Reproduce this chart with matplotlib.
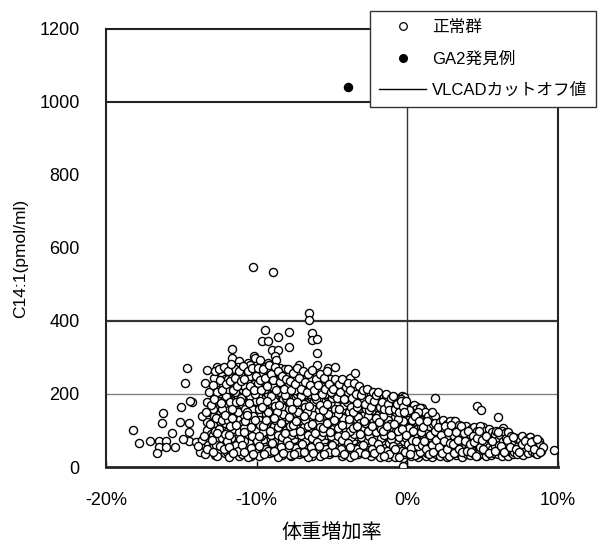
import matplotlib
matplotlib.use("Agg")
import matplotlib.pyplot as plt
from matplotlib.lines import Line2D

plt.rcParams['font.family'] = ['Liberation Sans', 'Noto Sans CJK JP', 'DejaVu Sans']

# ---------------- data (x: weight change %, y: C14:1 pmol/ml) ----------------
normal_left_sparse = [
    (-18.19, 101), (-17.8, 67), (-17.1, 72), (-16.5, 72), (-16.5, 56), (-16.0, 72),
    (-16.0, 56), (-15.4, 56), (-16.6, 37), (-16.2, 149), (-16.3, 121), (-15.6, 94),
    (-15.1, 124), (-15.0, 165), (-14.3, 179), (-14.6, 270), (-14.75, 231),
    (-14.5, 121), (-14.5, 97), (-14.5, 72), (-14.9, 76), (-14.0, 69), (-13.76, 42),
    (-13.6, 74), (-13.4, 229), (-13.3, 266), (-13.3, 179), (-13.3, 124), (-13.3, 101),
    (-13.2, 60), (-13.0, 52), (-14.45, 182), (-13.1, 150), (-13.05, 90), (-13.6, 140),
    (-13.9, 58), (-13.45, 35),
]

normal_upper_sparse = [
    (-12.6, 275), (-11.66, 322), (-11.66, 298), (-10.2, 304), (-10.1, 298), (-9.8, 293),
    (-9.45, 375), (-9.67, 346), (-9.23, 346), (-8.6, 355), (-7.83, 371), (-7.83, 330),
    (-9.0, 320), (-8.56, 320), (-8.8, 304), (-8.7, 293), (-6.35, 366), (-6.35, 348),
    (-5.97, 350), (-5.97, 311), (-5.97, 279), (-5.24, 270), (-4.8, 273), (-3.8, 243),
    (-3.47, 257), (-3.47, 220), (-2.6, 211), (-1.6, 188), (-0.37, 194), (0.62, 165),
    (0.95, 161), (1.84, 188), (3.05, 127), (4.6, 167), (4.86, 156), (6.0, 136),
    (5.05, 110), (6.37, 106), (7.6, 83), (8.14, 83), (8.8, 60), (9.73, 47), (-0.26, 3),
    (-10.24, 548), (-8.91, 534), (-6.52, 422), (-6.52, 403), (-11.2, 290), (-10.6, 285),
    (-12.1, 268), (-7.2, 279),
]

normal_band_m13_m9 = [
    (-12.95, 52), (-12.9, 88), (-12.85, 140), (-12.8, 196), (-12.75, 33), (-12.7, 110),
    (-12.65, 165), (-12.6, 72), (-12.55, 228), (-12.5, 45), (-12.45, 125), (-12.4, 180),
    (-12.35, 95), (-12.3, 250), (-12.25, 60), (-12.2, 150), (-12.15, 205), (-12.1, 38),
    (-12.05, 118), (-12.0, 170), (-12.92, 160), (-12.72, 60), (-12.48, 210), (-12.28, 80),
    (-12.08, 240), (-12.62, 30), (-12.18, 100), (-12.88, 115), (-12.38, 135), (-12.02, 65),
    (-11.95, 42), (-11.9, 98), (-11.85, 155), (-11.8, 210), (-11.75, 260), (-11.7, 35),
    (-11.65, 120), (-11.6, 185), (-11.55, 70), (-11.5, 238), (-11.45, 50), (-11.4, 140),
    (-11.35, 200), (-11.3, 88), (-11.25, 275), (-11.2, 30), (-11.15, 165), (-11.1, 225),
    (-11.05, 108), (-11.0, 58), (-11.92, 185), (-11.72, 80), (-11.52, 150), (-11.32, 250),
    (-11.12, 132), (-11.82, 28), (-11.42, 100), (-11.62, 222), (-11.22, 192), (-11.02, 160),
    (-11.88, 240), (-11.48, 40),
    (-10.95, 36), (-10.9, 85), (-10.85, 142), (-10.8, 198), (-10.75, 252), (-10.7, 48),
    (-10.65, 112), (-10.6, 172), (-10.55, 232), (-10.5, 65), (-10.45, 280), (-10.4, 130),
    (-10.35, 30), (-10.3, 190), (-10.25, 95), (-10.2, 245), (-10.15, 55), (-10.1, 155),
    (-10.05, 210), (-10.0, 75), (-10.92, 120), (-10.72, 215), (-10.52, 40), (-10.32, 160),
    (-10.12, 265), (-10.82, 70), (-10.62, 260), (-10.42, 102), (-10.22, 180), (-10.02, 125),
    (-10.88, 170), (-10.58, 28),
    (-9.95, 45), (-9.9, 102), (-9.85, 160), (-9.8, 220), (-9.75, 270), (-9.7, 32),
    (-9.65, 130), (-9.6, 188), (-9.55, 75), (-9.5, 248), (-9.45, 55), (-9.4, 145),
    (-9.35, 205), (-9.3, 92), (-9.25, 285), (-9.2, 38), (-9.15, 170), (-9.1, 232),
    (-9.05, 115), (-9.0, 62), (-9.92, 195), (-9.72, 85), (-9.52, 162), (-9.32, 258),
    (-9.12, 140), (-9.82, 30), (-9.42, 110), (-9.62, 235), (-9.22, 200), (-9.02, 175),
    (-9.88, 248), (-9.48, 42),
]

normal_band_m9_m5 = [
    (-8.95, 40), (-8.9, 92), (-8.85, 150), (-8.8, 205), (-8.75, 262), (-8.7, 50),
    (-8.65, 118), (-8.6, 178), (-8.55, 240), (-8.5, 68), (-8.45, 272), (-8.4, 135),
    (-8.35, 33), (-8.3, 195), (-8.25, 100), (-8.2, 250), (-8.15, 58), (-8.1, 160),
    (-8.05, 215), (-8.0, 80), (-8.92, 125), (-8.72, 222), (-8.52, 42), (-8.32, 165),
    (-8.12, 268), (-8.82, 72), (-8.62, 255), (-8.42, 108), (-8.22, 185), (-8.02, 130),
    (-8.88, 180), (-8.58, 28),
    (-7.95, 48), (-7.9, 105), (-7.85, 158), (-7.8, 215), (-7.75, 258), (-7.7, 30),
    (-7.65, 128), (-7.6, 185), (-7.55, 78), (-7.5, 240), (-7.45, 55), (-7.4, 148),
    (-7.35, 200), (-7.3, 90), (-7.25, 262), (-7.2, 36), (-7.15, 170), (-7.1, 228),
    (-7.05, 112), (-7.0, 62), (-7.92, 190), (-7.72, 88), (-7.52, 165), (-7.32, 245),
    (-7.12, 140), (-7.82, 32), (-7.42, 108), (-7.62, 230), (-7.22, 205), (-7.02, 178),
    (-7.88, 250), (-7.48, 40),
    (-6.95, 38), (-6.9, 95), (-6.85, 150), (-6.8, 200), (-6.75, 248), (-6.7, 52),
    (-6.65, 115), (-6.6, 175), (-6.55, 228), (-6.5, 70), (-6.45, 255), (-6.4, 132),
    (-6.35, 30), (-6.3, 190), (-6.25, 98), (-6.2, 238), (-6.15, 58), (-6.1, 158),
    (-6.05, 212), (-6.0, 78), (-6.92, 122), (-6.72, 218), (-6.52, 44), (-6.32, 162),
    (-6.12, 250), (-6.82, 72), (-6.62, 235), (-6.42, 105), (-6.22, 180), (-6.02, 128),
    (-6.88, 172), (-6.58, 28),
    (-5.95, 46), (-5.9, 100), (-5.85, 155), (-5.8, 205), (-5.75, 240), (-5.7, 32),
    (-5.65, 125), (-5.6, 180), (-5.55, 75), (-5.5, 225), (-5.45, 55), (-5.4, 142),
    (-5.35, 195), (-5.3, 88), (-5.25, 245), (-5.2, 36), (-5.15, 165), (-5.1, 215),
    (-5.05, 110), (-5.0, 62), (-5.92, 185), (-5.72, 85), (-5.52, 160), (-5.32, 232),
    (-5.12, 135), (-5.82, 30), (-5.42, 105), (-5.62, 220), (-5.22, 198), (-5.02, 172),
]

normal_band_m5_p1 = [
    (-4.95, 40), (-4.9, 90), (-4.85, 145), (-4.8, 195), (-4.75, 228), (-4.7, 50),
    (-4.65, 112), (-4.6, 170), (-4.55, 215), (-4.5, 68), (-4.45, 232), (-4.4, 128),
    (-4.35, 30), (-4.3, 182), (-4.25, 95), (-4.2, 210), (-4.15, 55), (-4.1, 150),
    (-4.05, 200), (-4.0, 78), (-4.92, 120), (-4.72, 205), (-4.52, 42), (-4.32, 158),
    (-4.12, 225), (-4.82, 70), (-4.62, 190), (-4.42, 100), (-4.22, 170), (-4.02, 125),
    (-3.95, 45), (-3.9, 98), (-3.85, 150), (-3.8, 198), (-3.75, 32), (-3.7, 120),
    (-3.65, 175), (-3.6, 72), (-3.55, 212), (-3.5, 52), (-3.45, 140), (-3.4, 190),
    (-3.35, 85), (-3.3, 215), (-3.25, 35), (-3.2, 162), (-3.15, 205), (-3.1, 108),
    (-3.05, 60), (-3.0, 180), (-3.92, 185), (-3.72, 82), (-3.52, 158), (-3.32, 128),
    (-3.12, 140), (-3.82, 28), (-3.42, 102), (-3.62, 205), (-3.22, 192), (-3.02, 95),
    (-2.95, 40), (-2.9, 92), (-2.85, 142), (-2.8, 188), (-2.75, 50), (-2.7, 115),
    (-2.65, 165), (-2.6, 205), (-2.55, 68), (-2.5, 198), (-2.45, 128), (-2.4, 30),
    (-2.35, 178), (-2.3, 95), (-2.25, 200), (-2.2, 55), (-2.15, 150), (-2.1, 185),
    (-2.05, 78), (-2.0, 35), (-2.92, 120), (-2.72, 192), (-2.52, 42), (-2.32, 155),
    (-2.12, 110), (-2.82, 70), (-2.62, 180), (-2.42, 100), (-2.22, 168), (-2.02, 130),
    (-1.95, 45), (-1.9, 95), (-1.85, 145), (-1.8, 185), (-1.75, 32), (-1.7, 118),
    (-1.65, 165), (-1.6, 70), (-1.55, 190), (-1.5, 52), (-1.45, 135), (-1.4, 178),
    (-1.35, 85), (-1.3, 28), (-1.25, 155), (-1.2, 188), (-1.15, 105), (-1.1, 60),
    (-1.05, 170), (-1.0, 38), (-1.92, 168), (-1.72, 80), (-1.52, 150), (-1.32, 122),
    (-1.12, 140), (-1.82, 28), (-1.42, 100), (-1.62, 182), (-1.22, 65), (-1.02, 90),
    (-0.95, 42), (-0.9, 88), (-0.85, 138), (-0.8, 175), (-0.75, 30), (-0.7, 112),
    (-0.65, 160), (-0.6, 65), (-0.55, 185), (-0.5, 50), (-0.45, 128), (-0.4, 170),
    (-0.35, 82), (-0.3, 25), (-0.25, 148), (-0.2, 192), (-0.15, 100), (-0.1, 58),
    (-0.05, 165), (0.0, 35), (-0.92, 160), (-0.72, 75), (-0.52, 142), (-0.32, 118),
    (-0.12, 130), (-0.82, 28), (-0.42, 95), (-0.62, 178), (-0.22, 70), (-0.02, 110),
    (0.05, 45), (0.1, 90), (0.15, 135), (0.2, 165), (0.25, 30), (0.3, 110),
    (0.35, 150), (0.4, 62), (0.45, 170), (0.5, 48), (0.55, 122), (0.6, 160),
    (0.65, 80), (0.7, 28), (0.75, 140), (0.8, 100), (0.85, 55), (0.9, 130),
    (0.95, 38), (1.0, 150), (0.12, 70), (0.32, 42), (0.52, 95), (0.72, 118),
    (0.92, 72), (0.22, 150), (0.62, 35), (0.82, 162),
]

normal_band_p1_p9 = [
    (1.05, 40), (1.1, 85), (1.15, 125), (1.2, 150), (1.25, 30), (1.3, 100),
    (1.35, 140), (1.4, 60), (1.45, 112), (1.5, 45), (1.55, 130), (1.6, 78),
    (1.65, 28), (1.7, 118), (1.75, 92), (1.8, 52), (1.85, 140), (1.9, 35),
    (1.95, 105), (2.0, 68), (1.12, 60), (1.42, 82), (1.62, 150), (1.82, 120), (1.32, 38),
    (2.05, 42), (2.1, 88), (2.15, 122), (2.2, 30), (2.25, 70), (2.3, 108),
    (2.35, 52), (2.4, 130), (2.45, 35), (2.5, 95), (2.55, 62), (2.6, 118),
    (2.65, 28), (2.7, 80), (2.75, 45), (2.8, 105), (2.85, 125), (2.9, 58),
    (2.95, 38), (3.0, 90), (2.18, 100), (2.58, 82), (2.78, 30),
    (3.05, 45), (3.1, 85), (3.15, 125), (3.2, 32), (3.25, 68), (3.3, 100),
    (3.35, 52), (3.4, 115), (3.45, 38), (3.5, 88), (3.55, 60), (3.6, 108),
    (3.65, 28), (3.7, 75), (3.75, 42), (3.8, 98), (3.85, 55), (3.9, 112),
    (3.95, 35), (4.0, 80),
    (4.05, 48), (4.1, 90), (4.15, 32), (4.2, 70), (4.25, 105), (4.3, 55),
    (4.35, 38), (4.4, 85), (4.45, 110), (4.5, 45), (4.55, 65), (4.6, 98),
    (4.65, 30), (4.7, 78), (4.75, 52), (4.8, 112), (4.85, 40), (4.9, 88),
    (4.95, 60), (5.0, 35),
    (5.05, 72), (5.1, 45), (5.15, 100), (5.2, 30), (5.25, 62), (5.3, 88),
    (5.35, 40), (5.4, 105), (5.45, 55), (5.5, 78), (5.55, 32), (5.6, 95),
    (5.65, 48), (5.7, 68), (5.75, 38), (5.8, 90), (5.85, 58), (5.9, 100),
    (5.95, 42), (6.0, 75),
    (6.05, 35), (6.1, 60), (6.15, 88), (6.2, 45), (6.25, 100), (6.3, 30),
    (6.35, 70), (6.4, 52), (6.45, 92), (6.5, 38), (6.55, 80), (6.6, 58),
    (6.65, 30), (6.7, 95), (6.75, 48), (6.8, 72), (6.85, 40), (6.9, 85),
    (6.95, 55), (7.0, 35),
    (7.05, 62), (7.1, 42), (7.2, 80), (7.3, 35), (7.35, 58), (7.45, 75),
    (7.5, 45), (7.6, 85), (7.65, 32), (7.75, 65), (7.85, 48), (7.95, 78), (8.0, 38),
    (8.1, 62), (8.15, 83), (8.25, 45), (8.35, 70), (8.45, 38), (8.55, 58),
    (8.6, 36), (8.75, 72), (8.8, 60), (8.9, 45), (9.0, 55),
]

normal_fill_left = [
    (-13.48, 85), (-13.38, 150), (-13.28, 48), (-13.18, 205), (-13.12, 118), (-13.02, 170),
    (-12.97, 75), (-12.83, 245), (-12.77, 98), (-12.67, 135), (-12.57, 182), (-12.43, 58),
    (-12.33, 160), (-12.23, 222), (-12.13, 90), (-12.03, 195), (-12.87, 40), (-12.53, 105),
    (-12.27, 130), (-12.17, 48),
    (-11.97, 72), (-11.87, 130), (-11.77, 178), (-11.67, 245), (-11.57, 105), (-11.47, 205),
    (-11.37, 60), (-11.27, 150), (-11.17, 95), (-11.07, 250), (-11.93, 215), (-11.83, 55),
    (-11.63, 160), (-11.43, 268), (-11.23, 45), (-11.03, 190), (-11.78, 112), (-11.58, 38),
    (-11.38, 178), (-11.08, 78),
    (-10.97, 60), (-10.87, 108), (-10.77, 160), (-10.67, 235), (-10.57, 90), (-10.47, 195),
    (-10.37, 52), (-10.27, 140), (-10.17, 228), (-10.07, 100), (-10.93, 225), (-10.83, 42),
    (-10.63, 150), (-10.43, 250), (-10.23, 35), (-10.03, 180), (-10.78, 125), (-10.53, 175),
    (-10.33, 85), (-10.13, 200),
    (-9.97, 70), (-9.87, 128), (-9.77, 180), (-9.67, 255), (-9.57, 95), (-9.47, 215),
    (-9.37, 50), (-9.27, 150), (-9.17, 235), (-9.07, 88), (-9.93, 230), (-9.83, 58),
    (-9.63, 165), (-9.43, 275), (-9.23, 45), (-9.03, 195), (-9.78, 115), (-9.53, 35),
    (-9.33, 180), (-9.13, 265),
]

normal_fill_mid = [
    (-8.97, 65), (-8.87, 112), (-8.77, 168), (-8.67, 238), (-8.57, 88), (-8.47, 205),
    (-8.37, 55), (-8.27, 145), (-8.17, 225), (-8.07, 102), (-8.93, 220), (-8.83, 45),
    (-8.63, 150), (-8.43, 255), (-8.23, 38), (-8.03, 190), (-8.78, 128), (-8.53, 170),
    (-8.33, 82), (-8.13, 198),
    (-7.97, 70), (-7.87, 125), (-7.77, 178), (-7.67, 240), (-7.57, 95), (-7.47, 210),
    (-7.37, 52), (-7.27, 150), (-7.17, 230), (-7.07, 88), (-7.93, 222), (-7.83, 60),
    (-7.63, 160), (-7.43, 265), (-7.23, 42), (-7.03, 195), (-7.78, 112), (-7.53, 35),
    (-7.33, 178), (-7.13, 255),
    (-6.97, 62), (-6.87, 110), (-6.77, 165), (-6.67, 232), (-6.57, 88), (-6.47, 200),
    (-6.37, 55), (-6.27, 142), (-6.17, 218), (-6.07, 100), (-6.93, 210), (-6.83, 42),
    (-6.63, 150), (-6.43, 245), (-6.23, 38), (-6.03, 185), (-6.78, 128), (-6.53, 168),
    (-6.33, 80), (-6.13, 195),
    (-5.97, 68), (-5.87, 122), (-5.77, 170), (-5.67, 228), (-5.57, 95), (-5.47, 200),
    (-5.37, 50), (-5.27, 145), (-5.17, 218), (-5.07, 85), (-5.93, 212), (-5.83, 58),
    (-5.63, 155), (-5.43, 238), (-5.23, 42), (-5.03, 190), (-5.78, 110), (-5.53, 35),
    (-5.33, 172), (-5.13, 240),
    (-4.97, 60), (-4.87, 108), (-4.77, 160), (-4.67, 218), (-4.57, 85), (-4.47, 190),
    (-4.37, 48), (-4.27, 135), (-4.17, 205), (-4.07, 98), (-4.93, 200), (-4.83, 40),
    (-4.63, 145), (-4.43, 222), (-4.23, 35), (-4.03, 178), (-4.78, 122), (-4.53, 160),
    (-4.33, 75), (-4.13, 185),
]

normal_fill_right = [
    (-3.97, 65), (-3.87, 115), (-3.77, 165), (-3.67, 210), (-3.57, 90), (-3.47, 185),
    (-3.37, 48), (-3.27, 138), (-3.17, 200), (-3.07, 82), (-3.93, 205), (-3.83, 55),
    (-3.63, 150), (-3.43, 215), (-3.23, 40), (-3.03, 170), (-3.78, 100), (-3.53, 32),
    (-3.33, 165), (-3.13, 120),
    (-2.97, 60), (-2.87, 108), (-2.77, 158), (-2.67, 198), (-2.57, 85), (-2.47, 175),
    (-2.37, 48), (-2.27, 132), (-2.17, 195), (-2.07, 95), (-2.93, 185), (-2.83, 35),
    (-2.63, 140), (-2.43, 200), (-2.23, 38), (-2.03, 165), (-2.78, 120), (-2.53, 155),
    (-2.33, 72), (-2.13, 172),
    (-1.97, 62), (-1.87, 112), (-1.77, 160), (-1.67, 192), (-1.57, 88), (-1.47, 170),
    (-1.37, 45), (-1.27, 130), (-1.17, 180), (-1.07, 78), (-1.93, 180), (-1.83, 50),
    (-1.63, 140), (-1.43, 190), (-1.23, 35), (-1.03, 155), (-1.78, 105), (-1.53, 30),
    (-1.33, 162), (-1.13, 118),
    (-0.97, 58), (-0.87, 105), (-0.77, 150), (-0.67, 185), (-0.57, 82), (-0.47, 160),
    (-0.37, 45), (-0.27, 125), (-0.17, 172), (-0.07, 80), (-0.93, 178), (-0.83, 48),
    (-0.63, 132), (-0.43, 185), (-0.23, 35), (-0.03, 150), (-0.78, 98), (-0.53, 28),
    (-0.33, 155), (-0.13, 40),
    (0.03, 62), (0.13, 108), (0.23, 52), (0.33, 128), (0.43, 85), (0.53, 32),
    (0.63, 105), (0.73, 150), (0.83, 42), (0.93, 95), (0.08, 155), (0.28, 75),
    (0.48, 140), (0.68, 58), (0.88, 112), (0.18, 35), (0.58, 70), (0.78, 125),
    (0.38, 98), (0.98, 60),
    (1.03, 110), (1.13, 72), (1.23, 48), (1.33, 125), (1.43, 35), (1.53, 88),
    (1.63, 60), (1.73, 42), (1.83, 100), (1.93, 75), (2.03, 110), (2.13, 55),
    (2.23, 88), (2.33, 38), (2.43, 72), (2.53, 112), (2.63, 48), (2.73, 95),
    (2.83, 65), (2.93, 115),
    (3.03, 62), (3.13, 38), (3.23, 95), (3.33, 75), (3.43, 50), (3.53, 112),
    (3.63, 40), (3.73, 92), (3.83, 70), (3.93, 45), (4.03, 100), (4.13, 62),
    (4.23, 40), (4.33, 85), (4.43, 68), (4.53, 30), (4.63, 80), (4.73, 100),
    (4.83, 55), (4.93, 75),
    (5.03, 50), (5.23, 85), (5.43, 38), (5.63, 72), (5.83, 45), (6.03, 95),
    (6.23, 58), (6.43, 40), (6.63, 75), (6.83, 55), (7.03, 82), (7.23, 50),
    (7.43, 40), (7.63, 62), (7.83, 72), (8.03, 55), (8.23, 68), (8.43, 50),
    (8.63, 76), (8.83, 40),
]

normal_fill_upper = [
    (-12.93, 225), (-12.78, 262), (-12.64, 205), (-12.52, 268), (-12.41, 238), (-12.29, 212),
    (-12.16, 275), (-12.04, 228), (-11.91, 262), (-11.79, 235), (-11.68, 282), (-11.56, 210),
    (-11.44, 245), (-11.31, 222), (-11.18, 262), (-11.06, 235), (-10.94, 278), (-10.81, 240),
    (-10.69, 205), (-10.56, 262), (-10.44, 222), (-10.31, 272), (-10.19, 212), (-10.06, 248),
    (-9.94, 270), (-9.81, 238), (-9.69, 212), (-9.56, 268), (-9.44, 245), (-9.31, 222),
    (-9.19, 280), (-9.06, 255), (-8.94, 238), (-8.81, 275), (-8.69, 210), (-8.56, 262),
    (-8.44, 232), (-8.31, 248), (-8.19, 215), (-8.06, 240), (-7.94, 268), (-7.81, 235),
    (-7.69, 210), (-7.56, 258), (-7.44, 228), (-7.31, 270), (-7.19, 245), (-7.06, 215),
    (-6.94, 262), (-6.81, 232), (-6.69, 205), (-6.56, 255), (-6.44, 225), (-6.31, 265),
    (-6.19, 210), (-6.06, 240), (-5.94, 225), (-5.81, 255), (-5.69, 200), (-5.56, 245),
    (-5.44, 215), (-5.31, 262), (-5.19, 228), (-5.06, 205),
    (-4.94, 215), (-4.81, 240), (-4.69, 188), (-4.56, 228), (-4.44, 205), (-4.31, 240),
    (-4.19, 185), (-4.06, 220), (-3.94, 230), (-3.81, 212), (-3.69, 188), (-3.56, 230),
    (-3.44, 200), (-3.31, 175), (-3.19, 222), (-3.06, 198), (-2.94, 210), (-2.81, 172),
    (-2.69, 215), (-2.56, 185), (-2.44, 165), (-2.31, 205), (-2.19, 180), (-2.06, 198),
    (-1.94, 205), (-1.81, 165), (-1.69, 178), (-1.56, 160), (-1.44, 200), (-1.31, 172),
    (-1.19, 155), (-1.06, 188), (-0.94, 195), (-0.81, 160), (-0.69, 172), (-0.56, 150),
    (-0.44, 182), (-0.31, 165), (-0.19, 150), (-0.06, 180),
]

normal_fill_core = [
    (-12.86, 185), (-12.61, 92), (-12.36, 175), (-12.11, 142), (-11.86, 88), (-11.61, 135),
    (-11.36, 115), (-11.11, 182), (-10.86, 95), (-10.61, 142), (-10.36, 110), (-10.11, 130),
    (-9.86, 85), (-9.61, 112), (-9.36, 128), (-9.11, 100), (-8.86, 135), (-8.61, 110),
    (-8.36, 120), (-8.11, 92), (-7.86, 138), (-7.61, 115), (-7.36, 125), (-7.11, 98),
    (-6.86, 140), (-6.61, 112), (-6.36, 118), (-6.11, 92), (-5.86, 138), (-5.61, 108),
    (-5.36, 120), (-5.11, 95), (-4.86, 130), (-4.61, 108), (-4.36, 115), (-4.11, 88),
    (-3.86, 132), (-3.61, 108), (-3.36, 112), (-3.11, 90), (-2.86, 125), (-2.61, 100),
    (-2.36, 112), (-2.11, 135), (-1.86, 122), (-1.61, 100), (-1.36, 112), (-1.11, 88),
    (-0.86, 118), (-0.61, 98), (-0.36, 105), (-0.11, 88),
]

ga2_x = [-3.94]
ga2_y = [1041]

vlcad_cutoff = 1000
extra_line = 400
grid_line = 200

x_ticks = [-20, -10, 0, 10]
x_tick_labels = ['-20%', '-10%', '0%', '10%']
y_ticks = [0, 200, 400, 600, 800, 1000, 1200]

legend_labels = ['正常群', 'GA2発見例', 'VLCADカットオフ値']

# ---------------- plotting ----------------
normal = (normal_left_sparse + normal_upper_sparse + normal_band_m13_m9 +
          normal_band_m9_m5 + normal_band_m5_p1 + normal_band_p1_p9 +
          normal_fill_left + normal_fill_mid + normal_fill_right +
          normal_fill_upper + normal_fill_core)
nx = [p[0] for p in normal]
ny = [p[1] for p in normal]

fig = plt.figure(figsize=(5.99, 5.44), dpi=100)
ax = fig.add_axes([106/599, 1 - 467/544, 452/599, 438/544])

ax.set_xlim(-20, 10)
ax.set_ylim(0, 1200)

ax.axhline(grid_line, color='#808080', lw=1.0, zorder=1)
ax.axhline(extra_line, color='#333333', lw=1.6, zorder=1)
ax.axvline(0, color='#333333', lw=1.0, zorder=1)
ax.axhline(vlcad_cutoff, color='#222222', lw=1.5, zorder=1)

ax.scatter(nx, ny, s=34, facecolor='white', edgecolor='black', linewidths=1.0, zorder=3)
ax.scatter(ga2_x, ga2_y, s=34, facecolor='black', edgecolor='black', linewidths=1.0, zorder=3)

ax.set_xticks(x_ticks)
ax.set_xticklabels(x_tick_labels)
ax.set_yticks(y_ticks)
ax.tick_params(axis='y', length=0, pad=19, labelsize=13)
ax.tick_params(axis='x', direction='in', length=4, width=1, pad=18, labelsize=13)

for side in ['left', 'bottom', 'right', 'top']:
    ax.spines[side].set_color('#222222')
    ax.spines[side].set_linewidth(1.5)
ax.spines['bottom'].set_linewidth(2)

ax.set_ylabel('C14:1(pmol/ml)', fontsize=12.5)
ax.yaxis.set_label_coords(-0.172, 0.477)
ax.set_xlabel('体重増加率', fontsize=14.5)
ax.xaxis.set_label_coords(0.5, -0.128)

handles = [
    Line2D([], [], ls='none', marker='o', markersize=5.5, markerfacecolor='white',
           markeredgecolor='black', markeredgewidth=0.9),
    Line2D([], [], ls='none', marker='o', markersize=5.5, markerfacecolor='black',
           markeredgecolor='black'),
    Line2D([], [], color='black', lw=1.0),
]
leg = fig.legend(handles, legend_labels, loc='upper left',
                 bbox_to_anchor=(370/599, 1 - 11/544), fontsize=12,
                 frameon=True, fancybox=False, edgecolor='#333333', framealpha=1,
                 handlelength=2.8, handletextpad=0.35, labelspacing=0.95,
                 borderpad=0.55, borderaxespad=0)
leg.get_frame().set_linewidth(1.0)

fig.savefig('out.png', dpi=100)
